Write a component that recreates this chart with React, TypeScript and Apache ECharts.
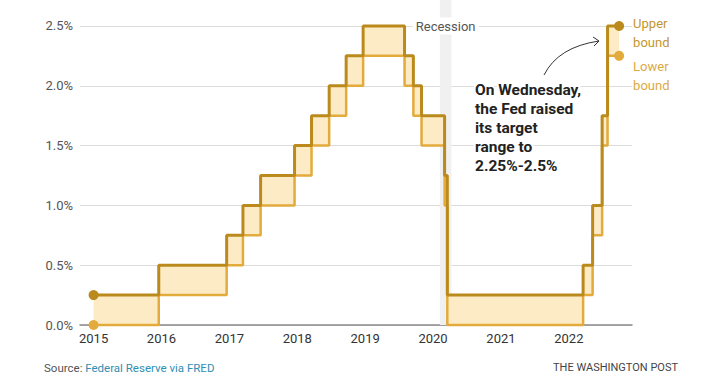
import React, { useEffect, useRef } from "react";
import * as echarts from "echarts";

// Tick labels on the x axis (years)
const yearTicks = [2015, 2016, 2017, 2018, 2019, 2020, 2021, 2022];
// Dates (decimal years) at which the target range changed
const changeDates = [
  2015.0, 2015.96, 2016.96, 2017.2, 2017.46, 2017.96, 2018.21, 2018.47, 2018.72, 2018.97,
  2019.58, 2019.71, 2019.83, 2020.17, 2020.21, 2022.21, 2022.35, 2022.49, 2022.57, 2022.74,
];
// Upper bound of the target range (%)
const upperBound = [
  0.25, 0.5, 0.75, 1.0, 1.25, 1.5, 1.75, 2.0, 2.25, 2.5,
  2.25, 2.0, 1.75, 1.25, 0.25, 0.5, 1.0, 1.75, 2.5, 2.5,
];
// Lower bound of the target range (%)
const lowerBound = [
  0, 0.25, 0.5, 0.75, 1.0, 1.25, 1.5, 1.75, 2.0, 2.25,
  2.0, 1.75, 1.5, 1.0, 0, 0.25, 0.75, 1.5, 2.25, 2.25,
];
// Recession period (decimal years)
const recession = [2020.1, 2020.27];

const UPPER = "#bb8a1d";
const LOWER = "#e2ab3c";
const FILL = "#fdebc6";

export default function App() {
  const ref = useRef<HTMLDivElement>(null);
  useEffect(() => {
    if (!ref.current) return;
    const chart = echarts.init(ref.current, null, { renderer: "svg" });
    const upperPts = changeDates.map((d, i) => [d, upperBound[i]]);
    const lowerPts = changeDates.map((d, i) => [d, lowerBound[i]]);
    const bandRows = changeDates
      .slice(0, -1)
      .map((d, i) => [d, changeDates[i + 1], lowerBound[i], upperBound[i]]);
    const last = changeDates.length - 1;
    chart.setOption({
      animation: false,
      textStyle: { fontFamily: "Roboto" },
      grid: { left: 80, right: 72, top: 0, bottom: 61 },
      xAxis: {
        type: "value",
        min: 2014.8,
        max: 2022.93,
        axisLine: { show: true, lineStyle: { color: "#8a8a8a", width: 1.5 } },
        axisTick: { show: false },
        splitLine: { show: false },
        axisLabel: {
          customValues: yearTicks,
          formatter: (v: number) => String(Math.round(v)),
          color: "#333",
          fontSize: 13,
          margin: 7,
        },
      },
      yAxis: {
        type: "value",
        min: 0,
        max: 2.717,
        interval: 0.5,
        axisLine: { show: false },
        axisTick: { show: false },
        splitLine: { show: true, showMaxLine: false, lineStyle: { color: "#dcdcdc", width: 1 } },
        axisLabel: {
          showMaxLabel: false,
          color: "#555",
          fontSize: 13,
          margin: 7,
          formatter: (v: number) =>
            Math.abs(v / 0.5 - Math.round(v / 0.5)) < 1e-6 ? v.toFixed(1) + "%" : "",
        },
      },
      series: [
        {
          type: "custom",
          name: "band",
          data: bandRows,
          encode: { x: [0, 1], y: [2, 3] },
          silent: true,
          clip: false,
          z: 2,
          renderItem: (params: any, api: any) => {
            const p0 = api.coord([api.value(0), api.value(3)]);
            const p1 = api.coord([api.value(1), api.value(2)]);
            return {
              type: "rect",
              shape: { x: p0[0], y: p0[1], width: p1[0] - p0[0], height: p1[1] - p0[1] },
              style: { fill: FILL },
            };
          },
          markArea: {
            silent: true,
            z: 1,
            itemStyle: { color: "#f0f0f0" },
            label: {
              show: true,
              position: ["50%", 26],
              align: "center",
              verticalAlign: "middle",
              color: "#555",
              fontSize: 13,
              backgroundColor: "#fff",
              padding: [2, 3],
            },
            data: [[{ xAxis: recession[0], name: "Recession" }, { xAxis: recession[1] }]],
          },
        },
        {
          type: "line",
          name: "Lower bound",
          data: lowerPts,
          step: "end",
          symbol: "none",
          clip: false,
          lineStyle: { color: LOWER, width: 2.5 },
          z: 3,
        },
        {
          type: "line",
          name: "Upper bound",
          data: upperPts,
          step: "end",
          symbol: "none",
          clip: false,
          lineStyle: { color: UPPER, width: 3 },
          z: 4,
        },
        {
          type: "scatter",
          symbolSize: 10,
          clip: false,
          itemStyle: { color: LOWER, opacity: 1 },
          z: 5,
          data: [
            lowerPts[0],
            {
              value: lowerPts[last],
              label: {
                show: true,
                formatter: "Lower\nbound",
                position: [19, 6],
                align: "left",
                verticalAlign: "top",
                color: "#dcaa45",
                fontSize: 13,
                lineHeight: 19,
              },
            },
          ],
        },
        {
          type: "scatter",
          symbolSize: 10,
          clip: false,
          itemStyle: { color: UPPER, opacity: 1 },
          z: 6,
          data: [
            upperPts[0],
            {
              value: upperPts[last],
              label: {
                show: true,
                formatter: "Upper\nbound",
                position: [19, -7],
                align: "left",
                verticalAlign: "top",
                color: "#c29630",
                fontSize: 13,
                lineHeight: 19,
              },
            },
          ],
        },
      ],
      graphic: [
        {
          type: "text",
          left: 473,
          top: 80,
          z: 10,
          style: {
            text: "On Wednesday,\nthe Fed raised\nits target\nrange to\n2.25%-2.5%",
            font: "bold 15.5px Roboto",
            lineHeight: 19,
            fill: "#222",
            stroke: "#fff",
            lineWidth: 4,
          },
        },
        {
          type: "bezierCurve",
          z: 10,
          shape: { x1: 544, y1: 75, x2: 599, y2: 41, cpx1: 558, cpy1: 47 },
          style: { stroke: "#333", lineWidth: 1, fill: "none" },
        },
        {
          type: "polyline",
          z: 10,
          shape: { points: [[593, 37], [599, 41], [594, 46]] },
          style: { stroke: "#333", lineWidth: 1, fill: "none" },
        },
        {
          type: "text",
          left: 44,
          top: 362,
          style: {
            text: "{a|Source: }{b|Federal Reserve via FRED}",
            rich: {
              a: { fill: "#555", font: "11.5px Roboto" },
              b: { fill: "#2f8fb4", font: "11.5px Roboto" },
            },
          },
        },
        {
          type: "text",
          right: 26,
          top: 362,
          style: {
            text: "THE WASHINGTON POST",
            fill: "#444",
            font: "11px 'Liberation Sans Narrow', Roboto",
          },
        },
      ],
    });
    return () => chart.dispose();
  }, []);
  return (
    <div
      ref={ref}
      style={{ position: "fixed", left: 0, top: 0, width: 704, height: 386, background: "#fff" }}
    />
  );
}
